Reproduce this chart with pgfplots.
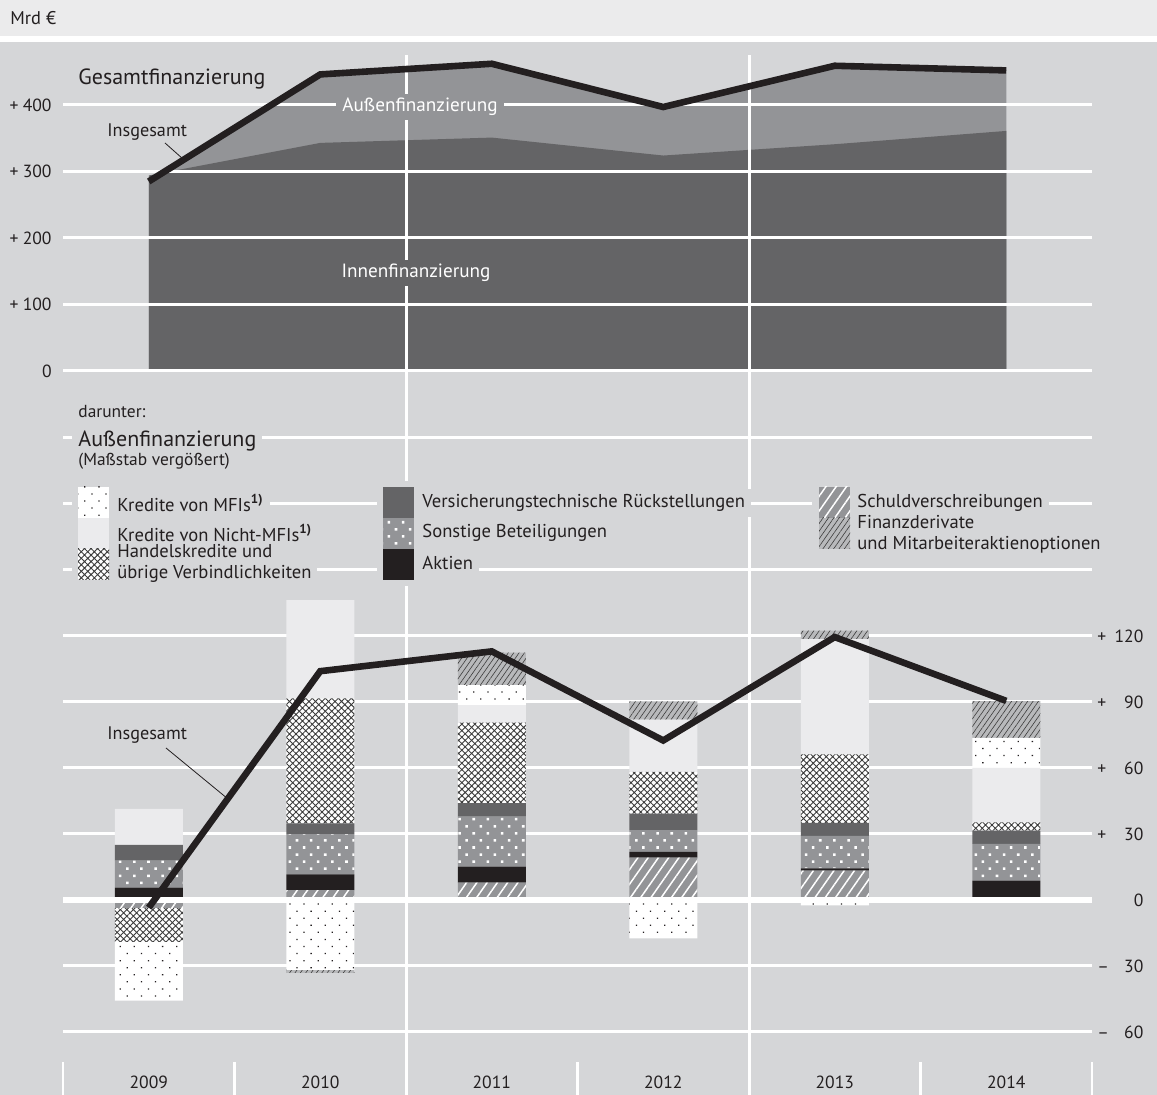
\documentclass[border=0pt]{standalone}
\usepackage{pgfplots}
\pgfplotsset{compat=1.18}
\usetikzlibrary{patterns.meta}
\usepackage{fontspec}
\setmainfont{PT Sans}

\definecolor{bg}{HTML}{D5D6D8}
\definecolor{head}{HTML}{EBEBEC}
\definecolor{ink}{HTML}{231F20}
\definecolor{innen}{HTML}{646466}
\definecolor{aussen}{HTML}{939497}
\definecolor{nmfi}{HTML}{EBEBED}
\definecolor{deriv}{HTML}{B8B9BB}
\definecolor{hatch}{HTML}{3C3C3C}

\newcommand\fs[2]{\fontsize{#1}{#2}\selectfont}
\newcommand\tll[2]{\hbox to 21pt{#1\hfill#2}}
\newcommand\tlr[2]{\hbox to 23pt{#1\hfill#2}}

\tikzset{
  s mfi/.style={draw=none, fill=white, postaction={pattern={Dots[angle=45,distance=5pt,radius=0.45pt]}, pattern color=ink}},
  s nmfi/.style={draw=none, fill=nmfi},
  s handel/.style={draw=none, fill=white, postaction={pattern={Hatch[angle=45,distance=2.3pt,line width=0.45pt]}, pattern color=hatch}},
  s vers/.style={draw=none, fill=innen},
  s sonst/.style={draw=none, fill=aussen, postaction={pattern={Dots[angle=45,distance=5pt,radius=0.9pt]}, pattern color=white}},
  s akt/.style={draw=none, fill=ink},
  s schuld/.style={draw=none, fill=aussen, postaction={pattern={Lines[angle=55,distance=4.2pt,line width=0.75pt]}, pattern color=white}},
  s deriv/.style={draw=none, fill=deriv, postaction={pattern={Lines[angle=55,distance=2.2pt,line width=0.3pt]}, pattern color=hatch}},
}

\pgfplotsset{
  botaxis/.style={
    at={(31.5pt,0pt)}, anchor=south west,
    scale only axis, width=514.5pt, height=328.5pt,
    xmin=2008.5, xmax=2014.5, ymin=-88.636, ymax=210,
  },
}

\begin{document}
\begin{tikzpicture}
\useasboundingbox (0,0) rectangle (578.5pt,547.5pt);
\fill[bg] (0,0) rectangle (578.5pt,547.5pt);
\begin{scope}[x=0.5pt,y=-0.5pt,yshift=547.5pt]
  \fill[head] (0,0) rectangle (1157,36);
  \fill[white] (0,36) rectangle (1157,42);
  \node[anchor=west, inner sep=0pt, font=\fs{9.2pt}{11pt}, text=ink] at (10,18) {Mrd €};
\end{scope}

% Gesamtfinanzierung (oben)
\begin{axis}[
  at={(31.5pt,362pt)}, anchor=south west,
  scale only axis, width=514.5pt, height=159.6pt,
  xmin=2008.5, xmax=2014.5, ymin=0, ymax=480,
  axis line style={draw=none}, major tick length=0pt,
  xtick=\empty,
  ytick={0,100,200,300,400},
  yticklabels={\tll{}{0},\tll{+}{100},\tll{+}{200},\tll{+}{300},\tll{+}{400}},
  yticklabel style={anchor=east, inner sep=0pt, xshift=-5.5pt, font=\fs{8.8pt}{10pt}, text=ink},
  clip=false,
]
  \addplot[fill=aussen, draw=none] coordinates {
    (2009,285) (2010,446) (2011,462) (2012,397) (2013,459) (2014,452)
  } \closedcycle;
  \addplot[fill=innen, draw=none] coordinates {
    (2009,294) (2010,343) (2011,351) (2012,324) (2013,341) (2014,361)
  } \closedcycle;
  \pgfplotsinvokeforeach{0,100,200,300,400}{
    \draw[white, line width=1.5pt] (axis cs:2008.5,#1) -- (axis cs:2014.5,#1);
  }
  \draw[white, line width=1.5pt] (axis cs:2010.5,475) -- (axis cs:2010.5,-1089);
  \draw[white, line width=1.5pt] (axis cs:2012.5,475) -- (axis cs:2012.5,-1089);
  \addplot[ink, line width=3.3pt, line join=miter] coordinates {
    (2009,285) (2010,446) (2011,462) (2012,397) (2013,459) (2014,452)
  };
\end{axis}

% Aussenfinanzierung: positive Beitraege
\begin{axis}[botaxis,
  ybar stacked, bar width=34pt,
  axis line style={draw=none}, major tick length=0pt,
  ymajorgrids, grid style={white, line width=1.5pt},
  ytick={-60,-30,0,30,60,90,120,150,180,210},
  yticklabel pos=right,
  yticklabels={\tlr{–}{60},\tlr{–}{30},\tlr{}{0},\tlr{+}{30},\tlr{+}{60},\tlr{+}{90},\tlr{+}{120},{},{},{}},
  yticklabel style={anchor=west, inner sep=0pt, xshift=2.5pt, font=\fs{8.8pt}{10pt}, text=ink},
  xtick={2009,2010,2011,2012,2013,2014},
  xticklabels={2009,2010,2011,2012,2013,2014},
  xticklabel style={anchor=center, inner sep=0pt, yshift=6.5pt, font=\fs{8.8pt}{10pt}, text=ink},
]
  \addplot[s schuld] coordinates {(2009,0) (2010,4.5) (2011,7.9) (2012,19.2) (2013,13.3) (2014,0)};
  \addplot[s akt] coordinates {(2009,5.6) (2010,7.1) (2011,7.3) (2012,2.7) (2013,1.1) (2014,8.8)};
  \addplot[s sonst] coordinates {(2009,12.3) (2010,18.3) (2011,22.7) (2012,9.8) (2013,14.7) (2014,16.7)};
  \addplot[s vers] coordinates {(2009,7.1) (2010,4.9) (2011,6.1) (2012,7.6) (2013,6.0) (2014,6.0)};
  \addplot[s handel] coordinates {(2009,0) (2010,56.8) (2011,36.6) (2012,18.9) (2013,31.1) (2014,3.8)};
  \addplot[s nmfi] coordinates {(2009,16.4) (2010,44.7) (2011,8.0) (2012,23.8) (2013,52.4) (2014,24.8)};
  \addplot[s mfi] coordinates {(2009,0) (2010,0) (2011,9.1) (2012,0) (2013,0) (2014,13.6)};
  \addplot[s deriv] coordinates {(2009,0) (2010,0) (2011,14.7) (2012,8.3) (2013,3.8) (2014,16.7)};
\end{axis}

% negative Beitraege
\begin{axis}[botaxis, hide axis, ybar stacked, bar width=34pt]
  \addplot[s schuld] coordinates {(2009,-3.7) (2010,0) (2011,0) (2012,0) (2013,0) (2014,0)};
  \addplot[s handel] coordinates {(2009,-15.3) (2010,0) (2011,0) (2012,0) (2013,0) (2014,0)};
  \addplot[s mfi] coordinates {(2009,-26.7) (2010,-31.8) (2011,0) (2012,-17.4) (2013,-2.5) (2014,0)};
  \addplot[s deriv] coordinates {(2009,0) (2010,-1.2) (2011,0) (2012,0) (2013,0) (2014,0)};
\end{axis}

% Nulllinie, Teilstriche, Insgesamt
\begin{axis}[botaxis, hide axis, clip=false]
  \draw[white, line width=2.75pt] (axis cs:2008.5,0) -- (axis cs:2014.5,0);
  \pgfplotsinvokeforeach{2008.5,2009.5,2010.5,2011.5,2012.5,2013.5,2014.5}{
    \draw[white, line width=1.4pt] (axis cs:#1,-73.6) -- (axis cs:#1,-88.6);
  }
  \addplot[ink, line width=3.3pt, line join=miter] coordinates {
    (2009,-3.5) (2010,104) (2011,113) (2012,72.5) (2013,119.5) (2014,90.5)
  };
\end{axis}

\begin{scope}[x=0.5pt,y=-0.5pt,yshift=547.5pt,
  lbl/.style={anchor=west, inner sep=0pt, text=ink},
  leg/.style={anchor=west, inner xsep=3pt, inner ysep=2.5pt, text=ink, font=\fs{9.3pt}{10.5pt}, align=left},
  legbg/.style={leg, fill=bg, text=bg}]
  \node[lbl, font=\fs{11pt}{13pt}] at (78,79) {Gesamtfinanzierung};
  \node[lbl, font=\fs{9.1pt}{10pt}] at (107,132) {Insgesamt};
  \draw[ink, line width=0.4pt] (165,143) -- (183,159);
  \node[fill=aussen, text=white, inner xsep=3pt, inner ysep=2pt, font=\fs{9.6pt}{11pt}] at (420,107) {Außenfinanzierung};
  \node[fill=innen, text=white, inner xsep=3pt, inner ysep=2pt, font=\fs{9.6pt}{11pt}] at (416,273) {Innenfinanzierung};
  \node[lbl, font=\fs{8.7pt}{10pt}] at (78,412) {darunter:};
  \node[lbl, fill=bg, inner xsep=3pt, inner ysep=2pt, font=\fs{11pt}{13pt}] at (72,441) {Außenfinanzierung};
  \node[lbl, font=\fs{8.7pt}{10pt}] at (78,461) {(Maßstab vergößert)};
  \node[lbl, font=\fs{9.1pt}{10pt}] at (107,735) {Insgesamt};
  \draw[ink, line width=0.4pt] (166,748) -- (228,799);
  % Legende: Hintergruende
  \fill[bg] (72,481) rectangle (115,586);
  \fill[bg] (377,481) rectangle (421,586);
  \fill[bg] (812,481) rectangle (856,555);
  \foreach \st in {legbg,leg}{
    \node[\st] at (111,563.5) {Handelskredite und\\übrige Verbindlichkeiten};
    \node[\st] at (851,534.5) {Finanzderivate\\und Mitarbeiteraktienoptionen};
    \node[\st] at (111,503) {Kredite von MFIs\textsuperscript{\bfseries 1)}};
    \node[\st] at (111,533) {Kredite von Nicht-MFIs\textsuperscript{\bfseries 1)}};
    \node[\st] at (416,503) {Versicherungstechnische Rückstellungen};
    \node[\st] at (416,533) {Sonstige Beteiligungen};
    \node[\st] at (416,563) {Aktien};
    \node[\st] at (851,503) {Schuldverschreibungen};
  }
  % Legende: Felder
  \path[s mfi] (78,487) rectangle (109,518);
  \path[s nmfi] (78,518) rectangle (109,549);
  \path[s handel] (78,549) rectangle (109,580);
  \path[s vers] (383,487) rectangle (414,518);
  \path[s sonst] (383,518) rectangle (414,549);
  \path[s akt] (383,549) rectangle (414,580);
  \path[s schuld] (819,487) rectangle (850,518);
  \path[s deriv] (819,518) rectangle (850,549);
\end{scope}
\end{tikzpicture}
\end{document}
